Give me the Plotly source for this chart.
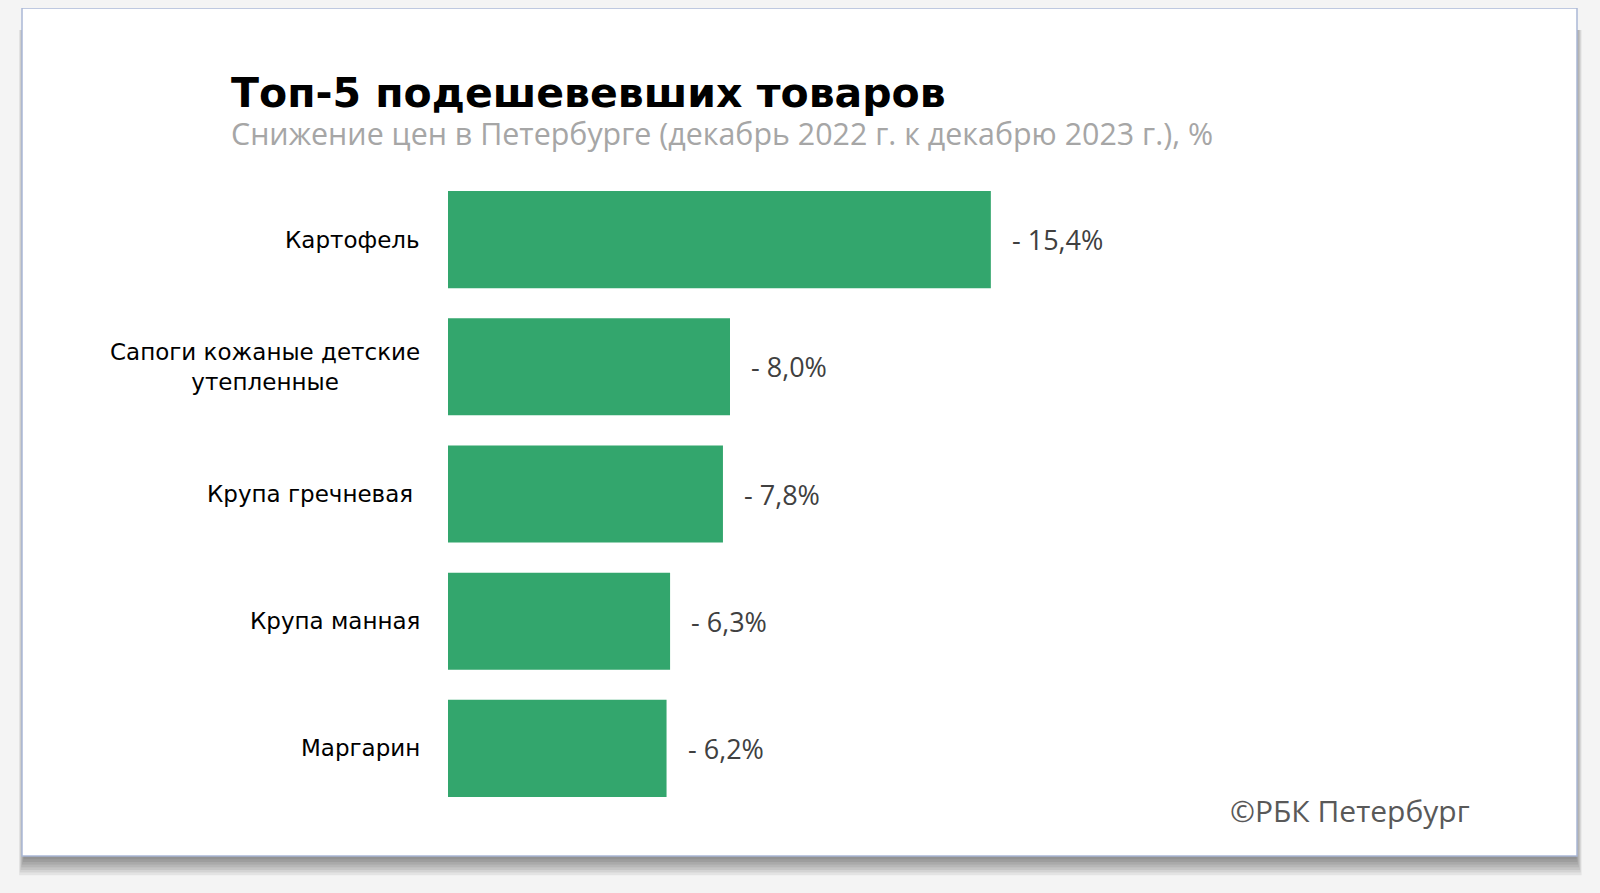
import plotly.graph_objects as go

# Топ-5 подешевевших товаров, Петербург, дек 2022 -> дек 2023
products = ["Картофель", "Сапоги кожаные детские<br>утепленные", "Крупа гречневая\u00a0",
            "Крупа манная", "Маргарин"]
drop_pct = [15.4, 8.0, 7.8, 6.3, 6.2]
value_labels = ["- 15,4%", "- 8,0%", "- 7,8%", "- 6,3%", "- 6,2%"]

title = "Топ-5 подешевевших товаров"
subtitle = "Снижение цен в Петербурге (декабрь 2022 г. к декабрю 2023 г.), %"
source = "©РБК Петербург"

BG = "#f4f4f4"
# the page body has an 8px margin, so the figure is a bit smaller than the window
OFF = 8
W, H = 1600 - 2 * OFF, 893 - 2 * OFF
# plot area, in window pixels
L, T, PW, PH = 448, 176, 705, 636


def px(x):
    return (x - L) / PW


def py(y):
    return 1 - (y - T) / PH


fig = go.Figure()
fig.add_trace(
    go.Bar(x=drop_pct, y=products, orientation="h",
           marker=dict(color="#33a66d", line=dict(width=0)),
           hoverinfo="skip")
)

shapes = []
# card shadow
for i in range(8):
    shapes.append(dict(type="rect", xref="paper", yref="paper", layer="below",
                       x0=px(24 - i * 0.7), x1=px(1576 + i * 0.8), y0=py(30), y1=py(857 + i * 2.6),
                       line=dict(width=0), fillcolor="rgba(0,0,0,0.065)"))
# card
shapes.append(dict(type="rect", xref="paper", yref="paper", layer="below",
                   x0=px(22), x1=px(1577), y0=py(8), y1=py(856),
                   line=dict(color="#aab8d6", width=1.5), fillcolor="white"))

annotations = [
    dict(text="<b>" + title + "</b>", xref="paper", yref="paper", x=px(229), y=py(93),
         xanchor="left", yanchor="middle", showarrow=False,
         font=dict(family="DejaVu Sans", size=41, color="black")),
    dict(text=subtitle, xref="paper", yref="paper", x=px(229), y=py(134),
         xanchor="left", yanchor="middle", showarrow=False,
         font=dict(family="Open Sans", size=30.4, color="#a6a6a6")),
    dict(text=source, xref="paper", yref="paper", x=px(1228), y=py(810),
         xanchor="left", yanchor="middle", showarrow=False,
         font=dict(family="Open Sans", size=30, color="#595959")),
]
for name, val, lab in zip(products, drop_pct, value_labels):
    annotations.append(dict(text=name, xref="paper", yref="y", x=0, y=name,
                            xanchor="right", yanchor="middle", xshift=-26, align="center",
                            showarrow=False,
                            font=dict(family="DejaVu Sans", size=23, color="black")))
    annotations.append(dict(text=lab, xref="x", yref="y", x=val, y=name,
                            xanchor="left", yanchor="middle", xshift=19,
                            showarrow=False,
                            font=dict(family="Open Sans", size=27, color="#404040")))

fig.update_layout(
    width=W, height=H,
    margin=dict(l=L - OFF, r=W - (L - OFF) - PW, t=T - OFF, b=H - (T - OFF) - PH),
    paper_bgcolor=BG, plot_bgcolor="white",
    showlegend=False, bargap=0.237,
    xaxis=dict(range=[0, 20], visible=False, fixedrange=True),
    yaxis=dict(autorange="reversed", showticklabels=False, showgrid=False,
               zeroline=False, showline=False, ticks="", fixedrange=True),
    shapes=shapes, annotations=annotations,
)

fig.write_html("out.html", post_script="document.body.style.background='%s';" % BG)
